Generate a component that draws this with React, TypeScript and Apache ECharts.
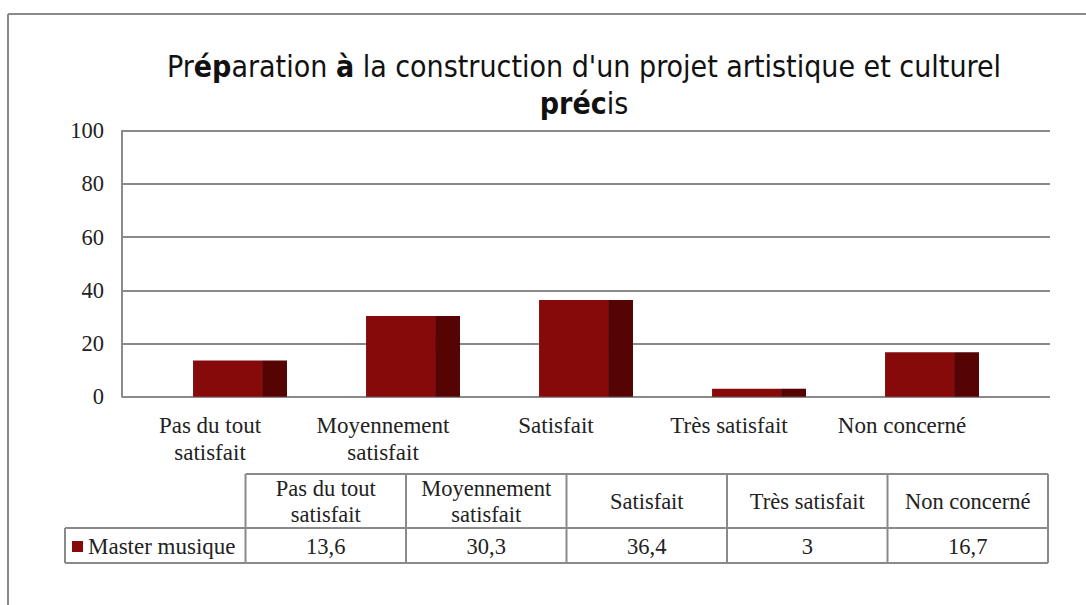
import React, { useEffect, useRef } from "react";
import * as echarts from "echarts";

const categories = ["Pas du tout\nsatisfait", "Moyennement\nsatisfait", "Satisfait", "Très satisfait", "Non concerné"];
const values = [13.6, 30.3, 36.4, 3, 16.7];
const seriesName = "Master musique";
const yMin = 0;
const yMax = 100;
const yInterval = 20;

const FRONT = "#860a0a";
const SIDE = "#550303";
const GREY = "#8a8a8a";
const SERIF = "'Liberation Serif', 'DejaVu Serif', serif";
const NARROW = "'Liberation Sans Narrow', 'DejaVu Sans Condensed', 'Liberation Sans', sans-serif";

function fmt(v: number) {
  return String(v).replace(".", ",");
}

export default function App() {
  const ref = useRef<HTMLDivElement>(null);
  useEffect(() => {
    if (!ref.current) return;
    const chart = echarts.init(ref.current, undefined, { renderer: "svg" });

    // table layout
    const colX = [245.5, 406, 566.5, 727, 887.5, 1048];
    const legendX0 = 65;
    const headTop = 474;
    const rowTop = 528;
    const rowBottom = 563;
    const graphics: any[] = [];
    // outer frame
    graphics.push({ type: "line", shape: { x1: 8, y1: 14, x2: 1086, y2: 14 }, style: { stroke: GREY, lineWidth: 2 } });
    graphics.push({ type: "line", shape: { x1: 8, y1: 14, x2: 8, y2: 605 }, style: { stroke: GREY, lineWidth: 2 } });
    // table lines
    const ls = { stroke: GREY, lineWidth: 2 };
    graphics.push({ type: "line", shape: { x1: colX[0], y1: headTop, x2: colX[5], y2: headTop }, style: ls });
    graphics.push({ type: "line", shape: { x1: legendX0, y1: rowTop, x2: colX[5], y2: rowTop }, style: ls });
    graphics.push({ type: "line", shape: { x1: legendX0, y1: rowBottom, x2: colX[5], y2: rowBottom }, style: ls });
    graphics.push({ type: "line", shape: { x1: legendX0, y1: rowTop, x2: legendX0, y2: rowBottom }, style: ls });
    colX.forEach((x) => {
      graphics.push({ type: "line", shape: { x1: x, y1: headTop, x2: x, y2: rowBottom }, style: ls });
    });
    categories.forEach((c, i) => {
      const cx = (colX[i] + colX[i + 1]) / 2;
      graphics.push({
        type: "text",
        x: cx,
        y: (headTop + rowTop) / 2,
        style: { text: c, fontFamily: SERIF, fontSize: 22.5, fill: "#222", align: "center", verticalAlign: "middle", lineHeight: 26 },
      });
      graphics.push({
        type: "text",
        x: cx,
        y: (rowTop + rowBottom) / 2 + 1,
        style: { text: fmt(values[i]), fontFamily: SERIF, fontSize: 22.5, fill: "#222", align: "center", verticalAlign: "middle" },
      });
    });
    graphics.push({ type: "rect", shape: { x: 72, y: 541, width: 11, height: 11 }, style: { fill: FRONT } });
    graphics.push({
      type: "text",
      x: 88,
      y: (rowTop + rowBottom) / 2 + 1,
      style: { text: seriesName, fontFamily: SERIF, fontSize: 23, fill: "#222", align: "left", verticalAlign: "middle" },
    });

    chart.setOption({
      animation: false,
      backgroundColor: "#ffffff",
      title: {
        left: 579,
        top: 43,
        textAlign: "center",
        text: "Pr{b|ép}aration {b|à} la construction d'un projet artistique et culturel\n{b|préc}is",
        textStyle: {
          fontFamily: NARROW,
          fontSize: 30,
          fontWeight: "normal",
          color: "#111",
          lineHeight: 37,
          rich: {
            b: { fontFamily: NARROW, fontSize: 30, fontWeight: "bold", color: "#111", lineHeight: 37 },
          },
        },
      },
      grid: [
        { left: 122, right: 36, top: 130.7, bottom: 208.3 },
        { left: 123.5, width: 865, top: 130.7, bottom: 208.3 },
      ],
      xAxis: [
        { type: "value", gridIndex: 0, show: false, min: 0, max: 1 },
        {
          type: "category",
          gridIndex: 1,
          data: categories,
          axisLine: { show: false },
          axisTick: { show: false },
          axisLabel: { fontFamily: SERIF, fontSize: 23, color: "#222", margin: 15, lineHeight: 27, interval: 0 },
        },
      ],
      yAxis: [
        {
          type: "value",
          gridIndex: 0,
          min: yMin,
          max: yMax,
          interval: yInterval,
          axisLine: { show: true, lineStyle: { color: GREY, width: 2 } },
          axisTick: { show: false },
          splitLine: { show: true, lineStyle: { color: GREY, width: 2 } },
          axisLabel: { fontFamily: SERIF, fontSize: 22.5, color: "#222", margin: 18 },
        },
        { type: "value", gridIndex: 1, min: yMin, max: yMax, interval: yInterval, show: false, splitLine: { show: false } },
      ],
      series: [
        {
          type: "custom",
          name: seriesName,
          xAxisIndex: 1,
          yAxisIndex: 1,
          clip: false,
          data: values.map((v, i) => [i, v]),
          encode: { x: 0, y: 1 },
          renderItem: (params: any, api: any) => {
            const i = api.value(0);
            const v = api.value(1);
            const base = api.coord([i, 0]);
            const top = api.coord([i, v]);
            const w = api.size([1, 0])[0];
            const fx0 = base[0] - 0.098 * w;
            const fx1 = base[0] + 0.301 * w;
            const sx1 = base[0] + 0.445 * w;
            const h = base[1] - top[1];
            return {
              type: "group",
              children: [
                { type: "rect", shape: { x: fx0, y: top[1], width: fx1 - fx0, height: h }, style: { fill: FRONT } },
                { type: "rect", shape: { x: fx1, y: top[1], width: sx1 - fx1, height: h }, style: { fill: SIDE } },
              ],
            };
          },
        },
      ],
      graphic: graphics,
    });
    return () => chart.dispose();
  }, []);
  return <div ref={ref} style={{ position: "fixed", left: 0, top: 0, width: 1086, height: 605 }} />;
}
